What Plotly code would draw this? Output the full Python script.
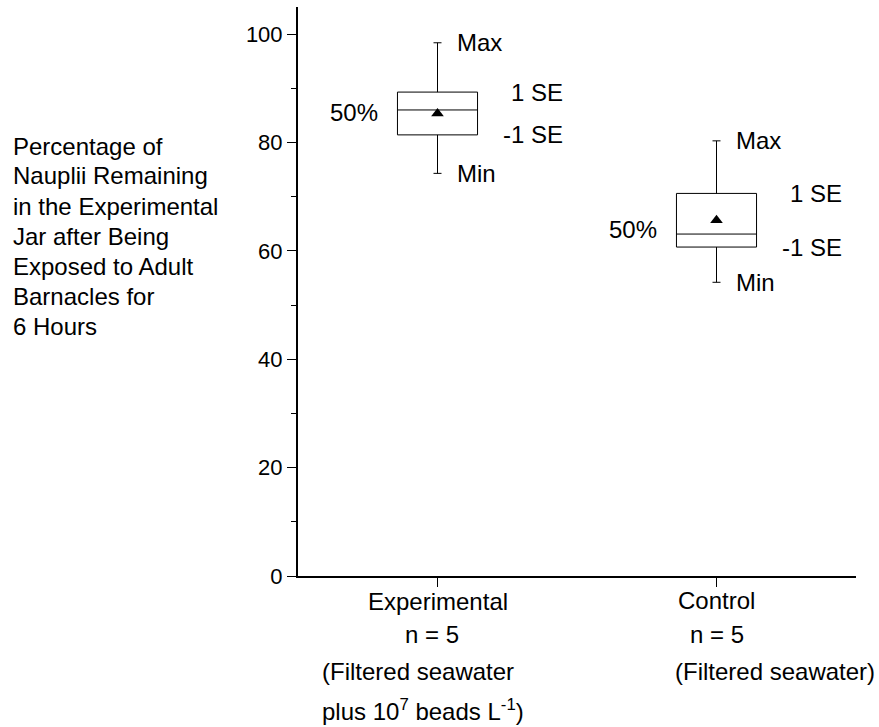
import plotly.graph_objects as go

# ---------------- data ----------------
categories = ["Experimental", "Control"]
n_labels = ["n = 5", "n = 5"]
descriptions = [["(Filtered seawater", "plus 10<sup>7</sup> beads L<sup>-1</sup>)"],
                ["(Filtered seawater)"]]
x_pos = [0, 1]
mean_vals = [85.35, 65.65]
se_vals = [3.95, 4.95]
median_vals = [86.0, 63.1]
min_vals = [74.3, 54.2]
max_vals = [98.4, 80.3]

y_title_lines = ["Percentage of", "Nauplii Remaining", "in the Experimental",
                 "Jar after Being", "Exposed to Adult", "Barnacles for", "6 Hours"]
y_tickvals = [0, 20, 40, 60, 80, 100]

# ---------------- layout geometry ----------------
W, H = 879, 727
L, R, T, B = 298, 23, 7, 151
PW, PH = W - L - R, H - T - B
FONT = "Liberation Sans, Arial, sans-serif"
TXT = 24


def px_x(px):
    return (px - L) / PW


def px_y(py):
    return (H - B - py) / PH


fig = go.Figure()

lower = [m - s for m, s in zip(mean_vals, se_vals)]
upper = [m + s for m, s in zip(mean_vals, se_vals)]

for i in range(len(categories)):
    fig.add_trace(go.Box(
        x=[x_pos[i]], q1=[lower[i]], q3=[upper[i]], median=[median_vals[i]],
        lowerfence=[min_vals[i]], upperfence=[max_vals[i]],
        width=0.287, whiskerwidth=0.1, boxpoints=False,
        line=dict(color="black", width=1), fillcolor="white",
        hoverinfo="skip", showlegend=False,
    ))

fig.add_trace(go.Scatter(
    x=x_pos, y=mean_vals, mode="markers",
    marker=dict(symbol="triangle-up", size=11, color="black", line=dict(width=0)),
    showlegend=False, hoverinfo="skip",
))

ann = []
# labels around each box
half_box_px = 40
median_shift = [-3, 5]
for i in range(len(categories)):
    f = dict(family=FONT, size=TXT, color="black")
    ann.append(dict(x=x_pos[i], y=max_vals[i], xref="x", yref="y", text="Max",
                    xanchor="left", yanchor="middle", xshift=17, showarrow=False, font=f))
    ann.append(dict(x=x_pos[i], y=min_vals[i], xref="x", yref="y", text="Min",
                    xanchor="left", yanchor="middle", xshift=17, showarrow=False, font=f))
    ann.append(dict(x=x_pos[i], y=upper[i], xref="x", yref="y", text="1 SE",
                    xanchor="left", yanchor="middle", xshift=half_box_px + 31,
                    showarrow=False, font=f))
    ann.append(dict(x=x_pos[i], y=lower[i], xref="x", yref="y", text="-1 SE",
                    xanchor="left", yanchor="middle", xshift=half_box_px + 23,
                    showarrow=False, font=f))
    ann.append(dict(x=x_pos[i], y=median_vals[i], xref="x", yref="y", text="50%",
                    xanchor="right", yanchor="middle", xshift=-(half_box_px + 18),
                    yshift=median_shift[i], showarrow=False, font=f))

# y-axis title, one annotation per line
for k, line in enumerate(y_title_lines):
    ann.append(dict(x=px_x(11), y=px_y(146.0 + 30 * k), xref="paper", yref="paper",
                    text=line, xanchor="left", yanchor="middle", showarrow=False,
                    font=dict(family=FONT, size=TXT, color="black")))

# x category labels, one annotation per line
x_label_centers = [[601.6, 634.6, 671.6, 709.6], [600.6, 634.6, 671.6]]
x_label_shifts = [[0, -6, -20, -15], [0, 0, 58]]
for i in range(len(categories)):
    lines = [categories[i], n_labels[i]] + descriptions[i]
    for k, line in enumerate(lines):
        ann.append(dict(x=x_pos[i], y=px_y(x_label_centers[i][k]), xref="x", yref="paper",
                        text=line, xanchor="center", yanchor="middle",
                        xshift=x_label_shifts[i][k], showarrow=False,
                        font=dict(family=FONT, size=TXT, color="black")))

fig.update_layout(
    width=W, height=H,
    margin=dict(l=L, r=R, t=T, b=B, pad=0),
    paper_bgcolor="white", plot_bgcolor="white",
    font=dict(family=FONT, color="black"),
    annotations=ann,
    hovermode=False,
    xaxis=dict(range=[-0.5, 1.5], tickvals=x_pos, showticklabels=False,
               ticks="outside", ticklen=9, tickwidth=1, tickcolor="black",
               showline=True, linewidth=2, linecolor="black",
               showgrid=False, zeroline=False),
    yaxis=dict(range=[0, 105], tickvals=y_tickvals, ticks="outside", ticklen=9,
               tickwidth=1, tickcolor="black",
               tickfont=dict(family=FONT, size=22, color="black"),
               showline=True, linewidth=2, linecolor="black",
               showgrid=False, zeroline=False,
               minor=dict(ticks="outside", ticklen=5, tickwidth=1, tickcolor="black",
                          tick0=0, dtick=10)),
)

fig.write_html(
    "out.html",
    config={"displayModeBar": False, "staticPlot": True},
    post_script="document.body.style.margin='0';document.body.style.padding='0';",
)
